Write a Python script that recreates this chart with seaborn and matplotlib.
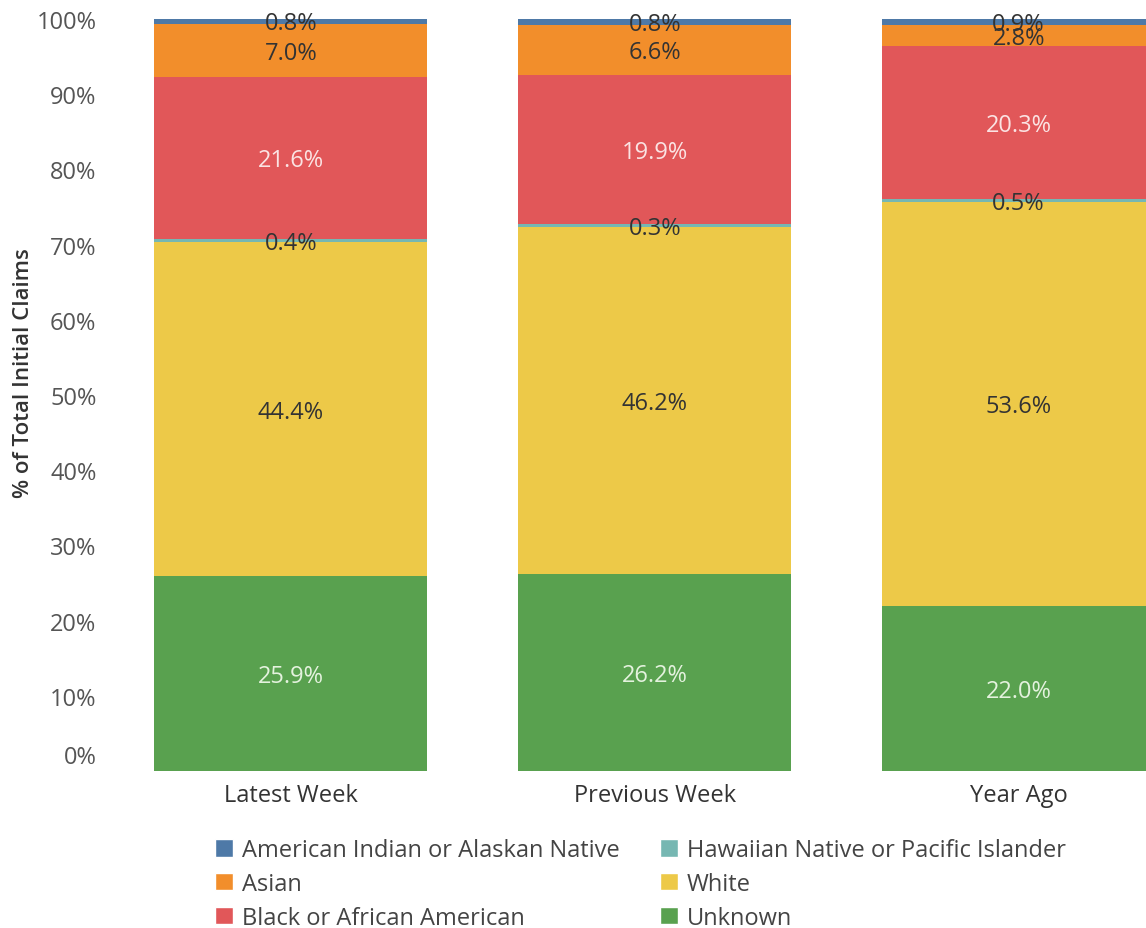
import pandas as pd
import seaborn as sns
import matplotlib.pyplot as plt
import matplotlib.transforms as mtransforms
from matplotlib.patches import Patch

# datos
periodos = ['Latest Week', 'Previous Week', 'Year Ago']
grupos = ['American Indian or Alaskan Native', 'Asian', 'Black or African American',
          'Hawaiian Native or Pacific Islander', 'White', 'Unknown']
american_indian = [0.8, 0.8, 0.9]
asian = [7.0, 6.6, 2.8]
black = [21.6, 19.9, 20.3]
hawaiian = [0.4, 0.3, 0.5]
white = [44.4, 46.2, 53.6]
unknown = [25.9, 26.2, 22.0]
colores = ['#4e79a7', '#f28e2b', '#e15759', '#76b7b2', '#edc948', '#59a14f']
color_texto = ['#333333', '#333333', '#fbe3e3', '#333333', '#333333', '#e4f2de']

valores = [american_indian, asian, black, hawaiian, white, unknown]
filas = []
for g, vals in zip(grupos, valores):
    for p, v in zip(periodos, vals):
        filas.append({'periodo': p, 'grupo': g, 'pct': v / 100})
datos = pd.DataFrame(filas)

sns.set_style('white')
plt.rcParams['font.family'] = ['Open Sans', 'DejaVu Sans']

fig = plt.figure(figsize=(11.46, 9.29), dpi=100)
ax = fig.add_axes([0.0951, 0.169, 0.9049, 0.8095])

sns.histplot(data=datos, x='periodo', weights='pct', hue='grupo', hue_order=grupos,
             multiple='stack', discrete=True, shrink=0.75, palette=colores,
             alpha=1, linewidth=0, legend=False, ax=ax)

# etiquetas en el centro de cada segmento (de abajo hacia arriba)
for i, p in enumerate(periodos):
    base = 0
    for g, vals, tc in list(zip(grupos, valores, color_texto))[::-1]:
        v = vals[i] / 100
        ax.text(i, base + v / 2 - 0.003, f'{vals[i]:.1f}%', ha='center', va='center',
                fontsize=17, color=tc)
        base += v

ax.set_xlim(-0.5, 2.35)
ax.set_ylim(0, 1.0)
ax.set_yticks([i / 10 for i in range(11)])
ax.set_yticklabels([f'{i * 10}%' for i in range(11)])
ax.tick_params(axis='y', labelsize=17, labelcolor='#555555', length=0, pad=9)
ax.tick_params(axis='x', labelsize=17, labelcolor='#333333', length=0, pad=9)
# el 0% va un poco mas arriba como en el original
lbl0 = ax.get_yticklabels()[0]
lbl0.set_transform(lbl0.get_transform() + mtransforms.ScaledTranslation(0, 17 / 100, fig.dpi_scale_trans))
ax.set_xlabel('')
ax.set_ylabel('% of Total Initial Claims', fontsize=16, color='#333333', fontweight='semibold')
ax.yaxis.set_label_coords(-0.072, 0.53)
sns.despine(ax=ax, left=True, bottom=True)

handles = [Patch(facecolor=c, label=g) for g, c in zip(grupos, colores)]
fig.legend(handles=handles, ncol=2, loc='upper left', bbox_to_anchor=(0.1876, 0.097),
           frameon=False, fontsize=17, handlelength=0.78, handleheight=0.78,
           handletextpad=0.36, labelspacing=0.42, columnspacing=1.7,
           borderpad=0, borderaxespad=0, labelcolor='#444444')

fig.savefig('out.png', dpi=100)
